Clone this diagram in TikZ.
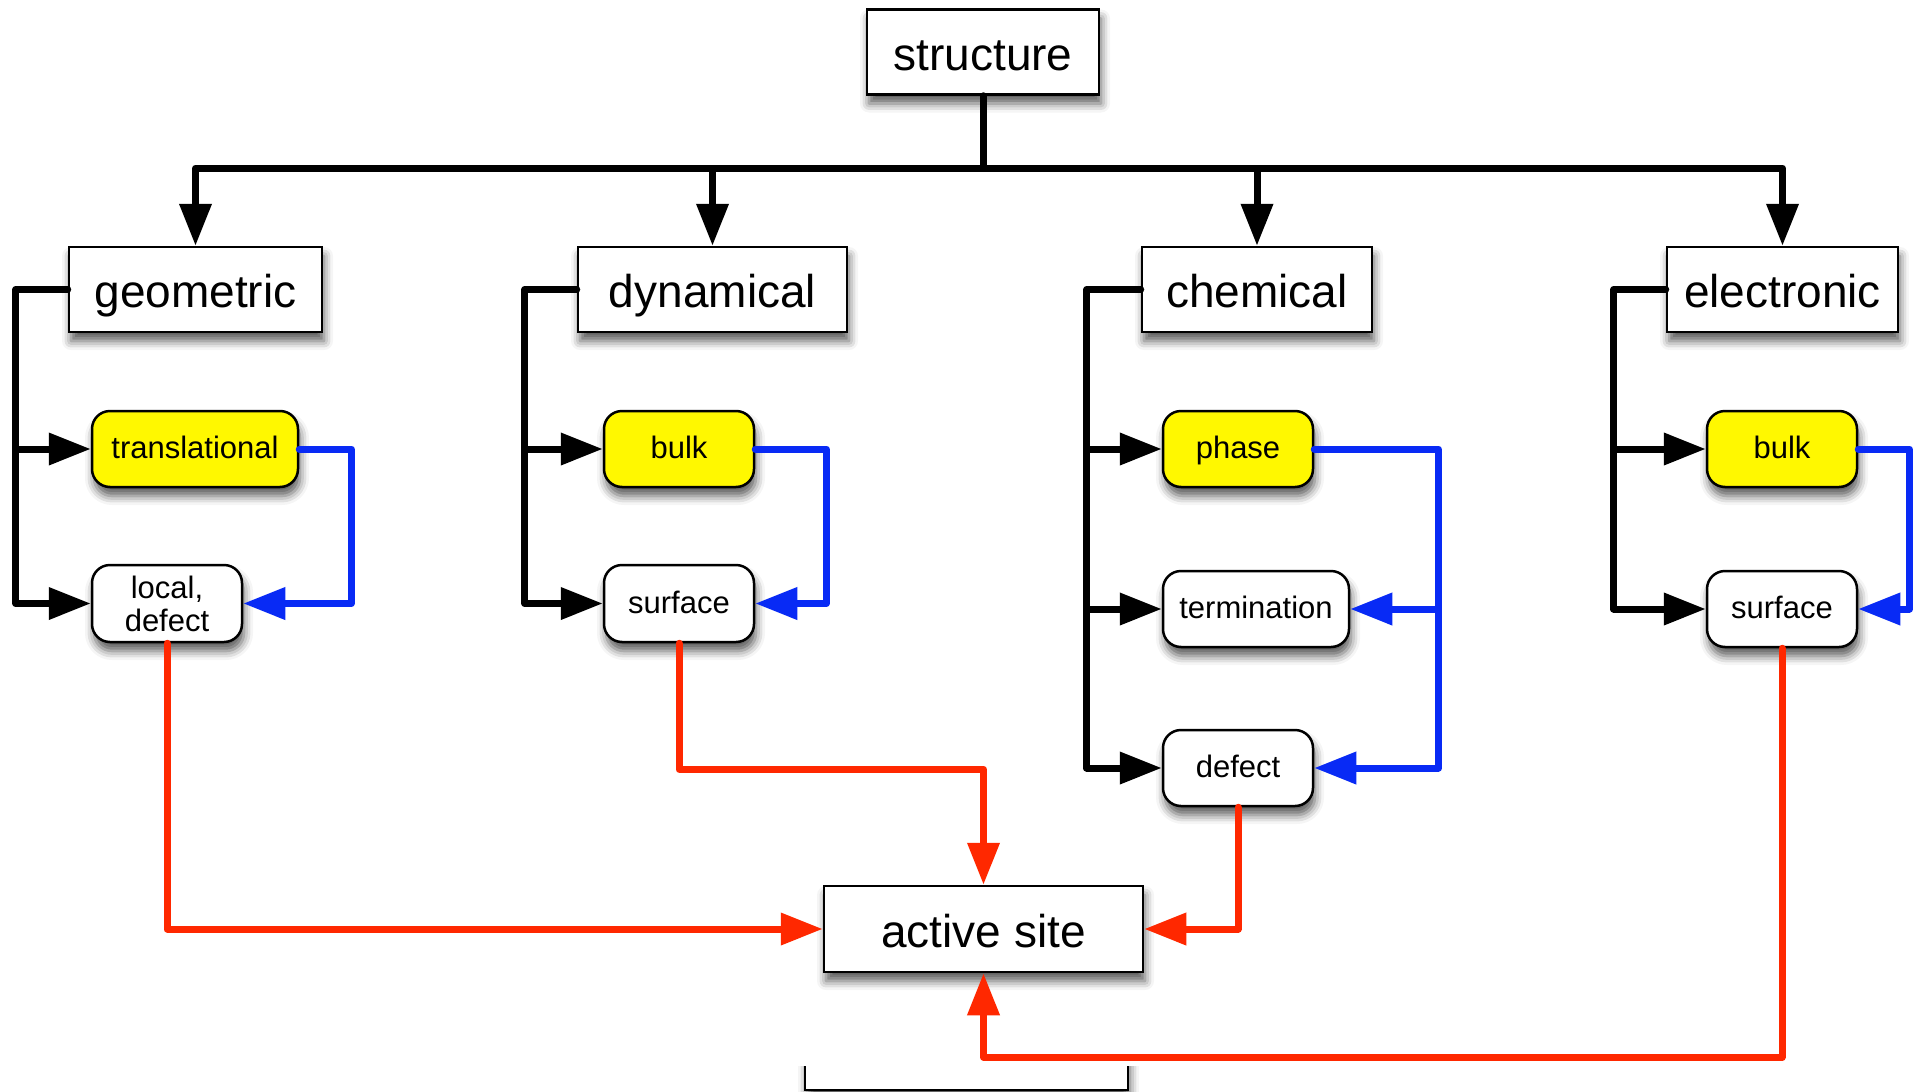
\documentclass[tikz,border=0pt]{standalone}
\usepackage{fontspec}
\setmainfont{Liberation Sans}
\usetikzlibrary{arrows.meta,shadows.blur}
\definecolor{myyellow}{RGB}{255,248,0}
\definecolor{myblue}{RGB}{8,42,245}
\definecolor{myred}{RGB}{255,40,0}
\tikzset{
  shad/.style={blur shadow={shadow xshift=2pt, shadow yshift=-9pt, shadow blur radius=9pt, shadow opacity=65}},
  bigbox/.style={draw=black, line width=2.5pt, fill=white, minimum height=85pt, inner sep=0pt,
    text height=38pt, text depth=2pt,
    font=\fontsize{46}{52}\selectfont, shad},
  smallbox/.style={draw=black, line width=2.5pt, fill=white, rounded corners=18pt, minimum height=76pt,
    inner sep=0pt, align=center, font=\fontsize{31}{33}\selectfont, shad},
  oneline/.style={text height=21pt, text depth=2pt},
  yelbox/.style={smallbox, oneline, fill=myyellow},
  conn/.style={line width=7pt, line cap=round, line join=round},
  blk/.style={conn, draw=black, -{Triangle[length=42pt,width=31pt]}},
  plainblk/.style={conn, draw=black},
  blu/.style={conn, draw=myblue, -{Triangle[length=42pt,width=31pt]}},
  rd/.style={conn, draw=myred, -{Triangle[length=42pt,width=31pt]}},
}
\begin{document}
\begin{tikzpicture}[x=1pt,y=-1pt]
\useasboundingbox (0,0) rectangle (1915,1092);
% partial box at the bottom
\begin{scope}
  \clip (700,1066) rectangle (1300,1130);
  \node[bigbox, minimum width=323pt, minimum height=86pt] (nextbox) at (966.5,1047) {};
\end{scope}
% top level
\node[bigbox, minimum width=232pt] (structure) at (983,52) {structure};
\node[bigbox, minimum width=253pt] (geo) at (195.5,289.5) {geometric};
\node[bigbox, minimum width=269pt] (dyn) at (712.5,289.5) {dynamical};
\node[bigbox, minimum width=230pt] (chem) at (1257,289.5) {chemical};
\node[bigbox, minimum width=231pt] (elec) at (1782.5,289.5) {electronic};
% sub nodes
\node[yelbox, minimum width=206pt] (trans) at (195,449) {translational};
\node[smallbox, minimum width=150pt, minimum height=77pt] (local) at (167,603.5) {local,\\defect};
\node[yelbox, minimum width=150pt] (dbulk) at (679,449) {bulk};
\node[smallbox, oneline, minimum width=150pt, minimum height=77pt] (dsurf) at (679,603.5) {surface};
\node[yelbox, minimum width=150pt] (phase) at (1238,449) {phase};
\node[smallbox, oneline, minimum width=186pt] (term) at (1256,609) {termination};
\node[smallbox, oneline, minimum width=150pt] (cdef) at (1238,768) {defect};
\node[yelbox, minimum width=150pt] (ebulk) at (1782,449) {bulk};
\node[smallbox, oneline, minimum width=150pt] (esurf) at (1782,609) {surface};
\node[bigbox, minimum width=319pt, minimum height=86pt] (active) at (983.5,929) {active site};
% structure tree
\coordinate (bar) at (983,168);
\draw[plainblk] (structure.south) -- (bar);
\draw[blk] (bar) -| (geo.north);
\draw[blk] (bar) -| (dyn.north);
\draw[blk] (bar) -| (chem.north);
\draw[blk] (bar) -| (elec.north);
% trunks
\draw[blk] (geo.west) -- ++(-52,0) |- (local.west);
\coordinate (gbr) at (17,449);
\draw[blk] (gbr) -- (trans.west);
\draw[blk] (dyn.west) -- ++(-52,0) |- (dsurf.west);
\coordinate (dbr) at (526,449);
\draw[blk] (dbr) -- (dbulk.west);
\draw[blk] (chem.west) -- ++(-54,0) |- (cdef.west);
\coordinate (cbr1) at (1088,449);
\coordinate (cbr2) at (1088,609);
\draw[blk] (cbr1) -- (phase.west);
\draw[blk] (cbr2) -- (term.west);
\draw[blk] (elec.west) -- ++(-52,0) |- (esurf.west);
\coordinate (ebr) at (1615,449);
\draw[blk] (ebr) -- (ebulk.west);
% blue feedback
\draw[blu] (trans.east) -- ++(52,0) |- (local.east);
\draw[blu] (dbulk.east) -- ++(71,0) |- (dsurf.east);
\draw[blu] (phase.east) -- ++(124,0) |- (cdef.east);
\coordinate (cbl) at (1437,609);
\draw[blu] (cbl) -- (term.east);
\draw[blu] (ebulk.east) -- ++(51,0) |- (esurf.east);
% red to active site
\draw[rd] (local.south) |- (active.west);
\draw[rd] (dsurf.south) -- ++(0,126) -| (active.north);
\draw[rd] (cdef.south) |- (active.east);
\draw[rd] (esurf.south) -- ++(0,409) -| (active.south);
\end{tikzpicture}
\end{document}
